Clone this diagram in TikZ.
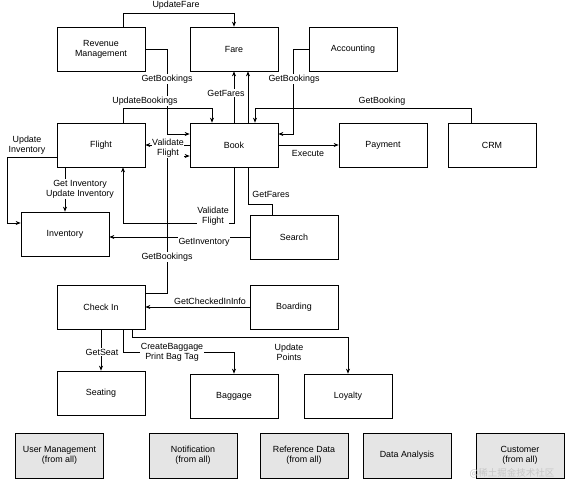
\documentclass[tikz,border=0pt]{standalone}
\usepackage{fontspec}
\setmainfont{Liberation Sans}
\newfontfamily\cjkfont{Noto Sans CJK SC}
\usetikzlibrary{positioning,arrows.meta,calc}
\pgfdeclarelayer{background}
\pgfsetlayers{background,main}

\tikzset{
	box/.style={draw, fill=white, line width=0.7pt, minimum width=88pt, minimum height=44pt, align=center, inner sep=1pt},
	greybox/.style={box, fill=black!10, minimum height=45pt},
	link/.style={line width=0.7pt, -{Stealth[length=5pt,width=4pt]}},
	lbl/.style={fill=white, inner sep=0.6pt, align=center},
}

\begin{document}
\begin{tikzpicture}[x=1pt, y=-1pt, font=\fontsize{8.9}{10}\selectfont]
	\useasboundingbox (0,0) rectangle (566,480);

	\def\xL{101}
	\def\xM{234}
	\def\xR{294}

	% services
	\node[box] (revenue)    at (\xL,49)  {Revenue\\Management};
	\node[box] (fare)       at (\xM,49)  {Fare};
	\node[box] (accounting) at (353,49)  {Accounting};
	\node[box] (flight)     at (\xL,145) {Flight};
	\node[box] (book)       at (\xM,145) {Book};
	\node[box] (payment)    at (383,145) {Payment};
	\node[box] (crm)        at (492,145) {CRM};
	\node[box] (inventory)  at (65,234)  {Inventory};
	\node[box] (search)     at (\xR,237) {Search};
	\node[box] (checkin)    at (\xL,307) {Check In};
	\node[box] (boarding)   at (\xR,307) {Boarding};
	\node[box] (seating)    at (\xL,393) {Seating};
	\node[box] (baggage)    at (\xM,396) {Baggage};
	\node[box] (loyalty)    at (348,396) {Loyalty};

	% shared services
	\node[greybox] (usermgmt)  at (59.5,455.5) {User Management\\(from all)};
	\node[greybox] (notify)    at (193,455.5)  {Notification\\(from all)};
	\node[greybox] (refdata)   at (304,455.5)  {Reference Data\\(from all)};
	\node[greybox] (analysis)  at (407,455.5)  {Data Analysis};
	\node[greybox] (customer)  at (520,455.5)  {Customer\\(from all)};

	\begin{pgfonlayer}{background}
	\draw[link]
		% revenue management
		(123,0 |- revenue.north) |- (\xM,13) -- (fare.north);
	\draw[link] (revenue.east) -| (167,134) -- (book.west |- 0,134);
	% accounting
	\draw[link] (accounting.west) -| (293,134) -- (book.east |- 0,134);
	% book
	\draw[link] (book.north) -- (fare.south);
	\draw[link] (book.east) -- (payment.west);
	\draw[link] (book.west) -- (flight.east);
	\draw[link] (book.south) -- (\xM,223) -| (123,0 |- flight.south);
	% flight
	\draw[link] (123,0 |- flight.north) |- (212,108) -- (212,0 |- book.north);
	\draw[link] (flight.west |- 0,157) -| (7,223) -- (inventory.west |- 0,223);
	\draw[link] (65,0 |- flight.south) -- (inventory.north);
	% crm
	\draw[link] (471,0 |- crm.north) |- (255,108) -- (255,0 |- book.north);
	% search
	\draw[link] (272,0 |- search.north) |- (248,204) -- (248,0 |- fare.south);
	\draw[link] (search.west) -- (search.west -| inventory.east);
	% check in
	\draw[link] (checkin.east |- 0,293) -| (167,156) -- (book.west |- 0,156);
	\draw[link] (boarding.west) -- (checkin.east);
	\draw[link] (\xL,0 |- checkin.south) -- (seating.north);
	\draw[link] (123,0 |- checkin.south) |- (\xM,352) -- (baggage.north);
	\draw[link] (132,0 |- checkin.south) |- (348,337) -- (loyalty.north);
	\end{pgfonlayer}

	% labels
	\node[lbl] (lUpdateFare)   at (176,5)   {UpdateFare};
	\node[lbl] (lRevBookings)  at (167,79)  {GetBookings};
	\node[lbl] (lAccBookings)  at (294,79)  {GetBookings};
	\node[lbl] (lBookFares)    at (226,93)  {GetFares};
	\node[lbl] (lUpdBookings)  at (145,101) {UpdateBookings};
	\node[lbl] (lGetBooking)   at (382,101) {GetBooking};
	\node[lbl] (lValidate)     at (168,148) {Validate\\Flight};
	\node[lbl] (lExecute)      at (308,153) {Execute};
	\node[lbl] (lUpdInv)       at (27,145)  {Update\\Inventory};
	\node[lbl] (lGetUpdInv)    at (80,189)  {Get Inventory\\Update Inventory};
	\node[lbl] (lSearchFares)  at (271,194) {GetFares};
	\node[lbl] (lValidate2)    at (213,216) {Validate\\Flight};
	\node[lbl] (lGetInventory) at (204,242) {GetInventory};
	\node[lbl] (lChkBookings)  at (167,257) {GetBookings};
	\node[lbl] (lCheckedIn)    at (210,301) {GetCheckedInInfo};
	\node[lbl] (lGetSeat)      at (102,352) {GetSeat};
	\node[lbl] (lBaggage)      at (172,352) {CreateBaggage\\Print Bag Tag};
	\node[lbl] (lPoints)       at (289,352) {Update\\Points};

	% watermark
	\node[text=black!22, font=\cjkfont\fontsize{9.5}{11}\selectfont] (mark) at (512,473.5) {@稀土掘金技术社区};
\end{tikzpicture}
\end{document}
